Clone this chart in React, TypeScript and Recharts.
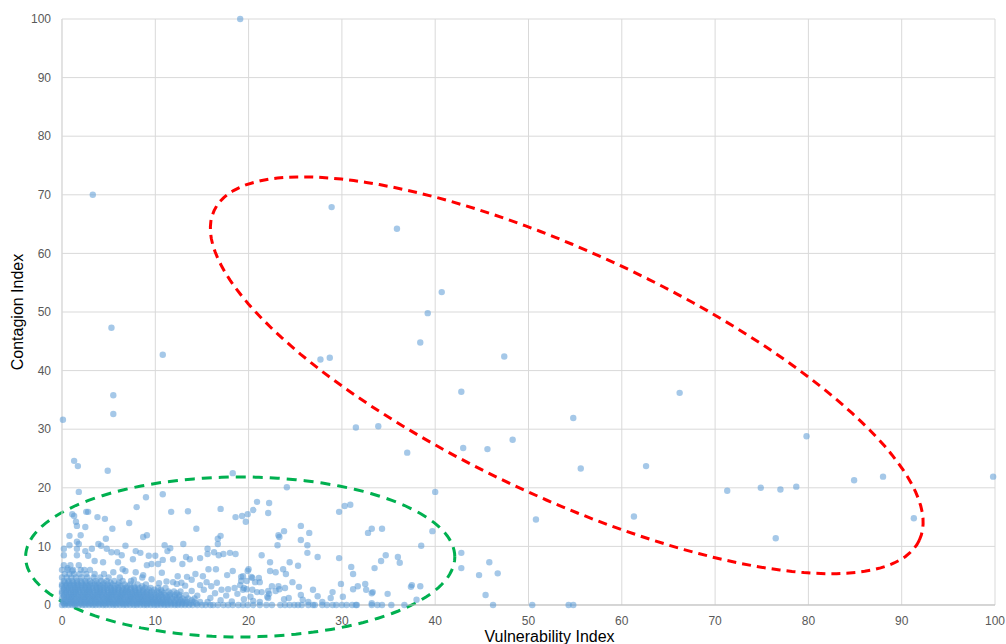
import { ScatterChart, Scatter, XAxis, YAxis, CartesianGrid, usePlotArea } from 'recharts'

const TICKS = [0, 10, 20, 30, 40, 50, 60, 70, 80, 90, 100]

// sparse points, mostly inside / around the red ellipse
const outliers: [number, number][] = [
  [19.1, 100], [3.3, 70], [28.9, 67.9], [35.9, 64.2], [40.7, 53.4], [39.2, 49.8], [38.4, 44.8],
  [5.3, 47.3], [10.8, 42.7], [27.7, 41.9], [28.7, 42.2], [47.4, 42.4], [5.5, 35.8], [5.5, 32.6],
  [0.1, 31.6], [31.5, 30.3], [33.9, 30.5], [42.8, 36.4], [66.2, 36.2], [54.8, 31.9], [48.3, 28.2],
  [37.0, 26.0], [43.0, 26.8], [45.6, 26.6], [55.6, 23.3], [62.6, 23.7], [79.8, 28.8], [40.0, 19.3],
  [50.8, 14.6], [61.3, 15.1], [71.3, 19.5], [74.9, 20.0], [77.0, 19.7], [78.7, 20.2], [84.9, 21.3],
  [88.0, 21.9], [99.8, 21.9], [91.3, 14.8], [76.5, 11.4], [50.4, 0], [54.3, 0], [54.8, 0], [46.2, 0],
  [45.4, 1.7], [45.8, 7.3], [44.7, 5.1], [46.7, 5.4], [42.8, 8.9], [42.8, 6.3], [39.7, 12.6],
  [38.5, 10.1], [38.0, 0.9], [37.5, 3.4], [37.4, 3.1], [38.4, 3.2], [36.7, 0],
]

// scattered points of the low cluster (green ellipse)
const cluster: [number, number][] = [
  [1.3, 24.6], [1.7, 23.7], [4.9, 22.9], [18.3, 22.5], [1.8, 19.3], [9.0, 18.4], [10.8, 18.9], [24.1, 20.1],
  [8.0, 16.7], [1.1, 15.5], [1.3, 15.2], [2.6, 15.9], [2.8, 15.9], [3.8, 15.0], [4.6, 14.7], [11.7, 15.9],
  [13.5, 16.0], [17.0, 16.4], [18.6, 15.0], [19.3, 15.2], [19.9, 15.5], [20.5, 16.2], [20.9, 17.6],
  [19.7, 14.2], [22.2, 17.4], [22.1, 15.7], [30.3, 16.9], [30.9, 17.1], [29.7, 15.9],
  [1.5, 14.2], [1.6, 13.5], [2.5, 13.3], [7.2, 14.0], [5.4, 13.0], [14.4, 13.0], [25.6, 13.5], [26.5, 12.3],
  [25.6, 11.1], [23.2, 11.9], [23.3, 11.6], [23.8, 12.6], [33.2, 13.0], [34.3, 13.0], [32.8, 12.3],
  [0.8, 11.8], [2.0, 11.9], [4.7, 11.3], [9.1, 11.9], [8.7, 11.6], [17.0, 11.8], [16.7, 11.3], [16.7, 10.4],
  [11.0, 10.2], [11.6, 9.7], [11.3, 9.2], [13.0, 10.4],
  [0.8, 10.2], [1.6, 10.8], [1.8, 10.4], [3.9, 10.4], [4.2, 10.1], [6.8, 10.1], [7.9, 9.2], [23.1, 10.2],
  [26.3, 10.2], [26.3, 8.9], [27.4, 8.2], [29.7, 8.0],
  [0.2, 9.6], [0.2, 8.5], [1.6, 9.6], [2.5, 9.2], [3.2, 9.6], [4.8, 9.6], [5.3, 9.0], [5.9, 9.0], [6.4, 8.5],
  [8.4, 8.9], [9.3, 8.4], [10.0, 8.4],
  [15.6, 9.6], [15.6, 8.7], [16.3, 9.0], [16.8, 8.5], [17.3, 8.7], [18.0, 8.9], [18.6, 8.7], [21.4, 8.5],
  [34.7, 8.5], [36.0, 8.2], [36.2, 7.2], [34.2, 7.5], [33.5, 6.3],
  [1.6, 8.5], [2.8, 8.4], [3.5, 7.5], [4.4, 7.3], [6.0, 7.3], [7.6, 7.8], [9.1, 6.8], [9.6, 7.0], [10.3, 7.0],
  [10.8, 7.7], [11.9, 7.8], [13.3, 8.2], [13.7, 7.8], [14.8, 8.0], [12.9, 7.0],
  [22.3, 7.3], [22.3, 5.8], [22.9, 5.6], [23.7, 6.1], [24.4, 7.3], [24.0, 5.3], [25.3, 6.7], [31.0, 6.5], [31.2, 5.3],
  [0.6, 6.3], [1.1, 5.8], [2.4, 6.0], [5.5, 5.6], [6.5, 6.1], [6.8, 5.8], [7.9, 5.6], [8.7, 5.1],
  [15.7, 6.1], [16.5, 6.1], [18.3, 5.8], [20.0, 6.1], [10.7, 5.5], [12.4, 4.9], [13.4, 4.8], [14.3, 5.3], [15.1, 4.9],
  [17.7, 5.1], [19.2, 4.8], [19.2, 4.1], [19.8, 4.1], [20.3, 4.8], [20.7, 3.9], [21.2, 3.9],
  [11.9, 3.9], [12.8, 3.8], [13.9, 4.3], [15.5, 3.9], [16.6, 3.8], [17.1, 2.6], [17.8, 2.7], [18.5, 2.9],
  [19.4, 2.6], [19.8, 2.7], [20.9, 2.2], [21.4, 2.2], [22.1, 2.4], [21.2, 0.5], [22.0, 1.4], [20.5, 0.7],
  [24.7, 3.9], [29.9, 3.6], [31.7, 3.2], [31.2, 2.7], [32.5, 3.6], [32.6, 2.6], [22.5, 3.2], [23.2, 3.2],
  [23.3, 2.7], [22.9, 2.4], [23.9, 2.9], [25.4, 3.1], [26.9, 2.6], [25.6, 1.7], [27.4, 1.5], [29.0, 2.2],
  [28.8, 1.2], [30.1, 1.4], [27.9, 0.5], [26.4, 0.5], [25.8, 0.9], [23.8, 1.0], [24.3, 1.2], [22.1, 1.2],
  [22.2, 1.9], [33.2, 2.0], [33.2, 0.3], [33.3, 2.2], [34.9, 1.9],
  [19.9, 5.8], [19.4, 4.9], [20.4, 4.6], [21.1, 4.6], [19.1, 3.4], [19.5, 2.9], [20.4, 2.6],
  [15.9, 1.2], [16.4, 2.0], [17.0, 0.8], [17.6, 1.6], [18.2, 0.6], [18.8, 1.9], [19.5, 1.0], [20.2, 1.4],
  [16.0, 3.2], [14.8, 3.4], [13.2, 3.3], [12.3, 3.6], [11.2, 4.0], [10.4, 3.7], [9.6, 4.4], [8.6, 4.7],
  [7.7, 4.3], [15.2, 2.6], [14.5, 1.6], [13.9, 2.4], [15.6, 0.5],
]

// points lying on the x axis (Contagion Index = 0)
const zeroRow: number[] = [
  0, 0.3, 0.7, 1.1, 1.4, 1.8, 2.2, 2.5, 2.9, 3.3, 3.6, 4.0, 4.4, 4.7, 5.1, 5.5, 5.8, 6.2, 6.6, 6.9, 7.3,
  7.7, 8.0, 8.4, 8.8, 9.1, 9.5, 9.9, 10.2, 10.6, 11.0, 11.3, 11.7, 12.1, 12.4, 12.8, 13.2, 13.6, 14.0,
  14.5, 15.0, 15.4, 15.9, 16.2, 16.7, 17.3, 17.8, 18.3, 18.9, 19.4, 19.9, 20.5, 21.2, 21.9, 22.5, 23.4,
  23.9, 24.4, 24.9, 25.3, 25.7, 26.4, 26.9, 27.1, 27.9, 28.4, 29.0, 29.4, 30.0, 30.5, 31.1, 31.5, 31.6,
  33.2, 33.8, 34.3, 35.3,
]

// the packed core near the origin, one row per contagion level
const coreRows: [number, number[]][] = [
  [0.25, [0.2, 0.5, 0.9, 1.3, 1.6, 2.0, 2.4, 2.8, 3.1, 3.5, 3.9, 4.2, 4.6, 5.0, 5.4, 5.7, 6.1, 6.5, 6.8, 7.2, 7.6, 8.0, 8.3, 8.7, 9.1, 9.4, 9.8, 10.2, 10.6, 10.9, 11.3, 11.7, 12.1, 12.5, 12.9, 13.3, 13.8, 14.4]],
  [0.5, [0.1, 0.5, 0.9, 1.2, 1.6, 2.0, 2.4, 2.7, 3.1, 3.5, 3.8, 4.2, 4.6, 5.0, 5.3, 5.7, 6.1, 6.4, 6.8, 7.2, 7.5, 7.9, 8.3, 8.6, 9.0, 9.4, 9.7, 10.1, 10.5, 10.8, 11.2, 11.6, 12.0, 12.5, 12.9, 13.4, 14.1, 14.8]],
  [0.8, [0.3, 0.7, 1.0, 1.4, 1.8, 2.1, 2.5, 2.9, 3.2, 3.6, 4.0, 4.4, 4.8, 5.1, 5.5, 5.9, 6.2, 6.6, 7.0, 7.3, 7.7, 8.1, 8.5, 8.8, 9.2, 9.6, 10.0, 10.3, 10.7, 11.1, 11.5, 12.2, 12.7, 13.2, 13.9]],
  [1.1, [0, 0.4, 0.8, 1.1, 1.5, 1.9, 2.3, 2.6, 3.0, 3.4, 3.7, 4.1, 4.5, 4.9, 5.2, 5.6, 6.0, 6.3, 6.7, 7.1, 7.4, 7.8, 8.2, 8.5, 8.9, 9.3, 9.6, 10.0, 10.4, 10.9, 11.3, 11.8, 12.3, 12.9, 13.5, 14.2]],
  [1.4, [0.2, 0.6, 1.0, 1.3, 1.7, 2.1, 2.4, 2.8, 3.2, 3.5, 3.9, 4.3, 4.7, 5.0, 5.4, 5.8, 6.2, 6.5, 6.9, 7.3, 7.6, 8.0, 8.4, 8.7, 9.1, 9.5, 9.9, 10.3, 10.7, 11.2, 11.6, 12.1, 12.6]],
  [1.7, [0.2, 0.6, 1.0, 1.3, 1.7, 2.1, 2.5, 2.8, 3.2, 3.6, 3.9, 4.3, 4.7, 5.1, 5.4, 5.8, 6.2, 6.5, 6.9, 7.3, 7.7, 8.0, 8.4, 8.8, 9.2, 9.6, 10.1, 10.6, 11.0, 11.5, 12.1, 12.6, 13.3]],
  [2.0, [0, 0.4, 0.8, 1.2, 1.5, 1.9, 2.3, 2.6, 3.0, 3.4, 3.8, 4.1, 4.5, 4.9, 5.3, 5.6, 6.0, 6.4, 6.7, 7.1, 7.5, 7.9, 8.2, 8.6, 9.0, 9.4, 9.9, 10.4, 10.9, 11.6, 12.3]],
  [2.3, [0, 0.4, 0.8, 1.2, 1.5, 1.9, 2.3, 2.7, 3.0, 3.4, 3.8, 4.1, 4.5, 4.9, 5.3, 5.6, 6.0, 6.4, 6.8, 7.1, 7.5, 7.9, 8.3, 8.7, 9.1, 9.6, 10.2, 10.7, 11.4, 12.0, 12.7]],
  [2.6, [0.2, 0.6, 1.0, 1.4, 1.8, 2.2, 2.6, 2.9, 3.3, 3.7, 4.1, 4.5, 4.9, 5.3, 5.7, 6.1, 6.5, 6.9, 7.3, 7.8, 8.2, 8.7, 9.3, 9.9, 10.6]],
  [2.9, [0.2, 0.6, 1.0, 1.4, 1.7, 2.1, 2.5, 2.9, 3.3, 3.7, 4.0, 4.4, 4.8, 5.2, 5.6, 6.0, 6.5, 6.9, 7.4, 7.8, 8.3, 8.9, 9.5, 10.3, 11.1]],
  [3.2, [0, 0.4, 0.8, 1.2, 1.6, 2.0, 2.4, 2.8, 3.2, 3.7, 4.1, 4.6, 5.1, 5.7, 6.3, 7.0, 7.7, 8.6]],
  [3.5, [0, 0.5, 0.9, 1.3, 1.7, 2.2, 2.6, 3.0, 3.5, 3.9, 4.4, 4.9, 5.4, 6.0, 6.7, 7.3, 8.1, 9.0]],
  [3.8, [0.3, 0.7, 1.2, 1.6, 2.1, 2.6, 3.2, 3.8, 4.5, 5.2, 6.1]],
  [4.1, [0.2, 0.7, 1.1, 1.6, 2.0, 2.5, 3.0, 3.6, 4.2, 4.8, 5.6, 6.5, 7.4]],
  [4.7, [0, 0.5, 1.0, 1.5, 2.1, 2.7, 3.4, 4.1, 5.0, 6.2]],
  [5.3, [0.3, 0.8, 1.3, 1.9, 2.6, 3.5, 4.5]],
  [6.0, [0, 0.6, 1.2, 2.0, 3.0]],
  [6.8, [0.2, 0.9, 1.8]],
]

// dashed annotation ellipses, in data units: centre, semi-axis vectors
const greenRing = { center: [19.1, 8.2], major: [23.0, 0], minor: [0, 13.65] }
const redRing = { center: [54.1, 39.2], major: [37.8, -28.1], minor: [-5.5, -18.9] }

const points = [
  ...outliers,
  ...cluster,
  ...zeroRow.map(x => [x, 0] as [number, number]),
  ...coreRows.flatMap(([y, xs]) => xs.map(x => [x, y] as [number, number])),
].map(([x, y]) => ({ x, y }))

function DashedEllipse({ ring, color, dash }: { ring: typeof greenRing; color: string; dash: string }) {
  const area = usePlotArea()
  if (!area) return null
  const sx = area.width / 100
  const sy = area.height / 100
  let d = ''
  for (let i = 0; i <= 144; i++) {
    const t = (i / 144) * Math.PI * 2
    const vx = ring.center[0] + ring.major[0] * Math.cos(t) + ring.minor[0] * Math.sin(t)
    const vy = ring.center[1] + ring.major[1] * Math.cos(t) + ring.minor[1] * Math.sin(t)
    const px = area.x + vx * sx
    const py = area.y + area.height - vy * sy
    d += (i === 0 ? 'M' : 'L') + px.toFixed(1) + ',' + py.toFixed(1)
  }
  return <path d={d} fill="none" stroke={color} strokeWidth={3} strokeDasharray={dash} />
}

const Dot = (p: any) => <circle cx={p.cx} cy={p.cy} r={3.2} fill="#5b9bd5" fillOpacity={0.55} />

export default function App() {
  return (
    <div style={{ position: 'absolute', left: 0, top: 0, width: 1006, height: 644, background: '#fff', fontFamily: '"Liberation Sans", Arial, sans-serif' }}>
      <ScatterChart width={1006} height={644} margin={{ top: 19, right: 11, bottom: 0, left: 0 }}>
        <CartesianGrid stroke="#d9d9d9" />
        <XAxis
          type="number"
          dataKey="x"
          domain={[0, 100]}
          ticks={TICKS}
          height={39}
          tickLine={false}
          tickSize={0}
          tickMargin={11}
          axisLine={{ stroke: '#bfbfbf' }}
          tick={{ fill: '#595959', fontSize: 12 }}
          label={{ value: 'Vulnerability Index', position: 'insideBottom', offset: 2, dx: 21, fill: '#000', fontSize: 16 }}
        />
        <YAxis
          type="number"
          dataKey="y"
          domain={[0, 100]}
          ticks={TICKS}
          width={62}
          tickLine={false}
          tickSize={0}
          tickMargin={11}
          axisLine={{ stroke: '#d9d9d9' }}
          tick={{ fill: '#595959', fontSize: 12 }}
          label={{ value: 'Contagion Index', angle: -90, position: 'insideLeft', offset: 17, fill: '#000', fontSize: 16, style: { textAnchor: 'middle' } }}
        />
        <Scatter data={points} shape={Dot} isAnimationActive={false} />
        <DashedEllipse ring={greenRing} color="#00b050" dash="10 7" />
        <DashedEllipse ring={redRing} color="#ff0000" dash="9 6" />
      </ScatterChart>
    </div>
  )
}
